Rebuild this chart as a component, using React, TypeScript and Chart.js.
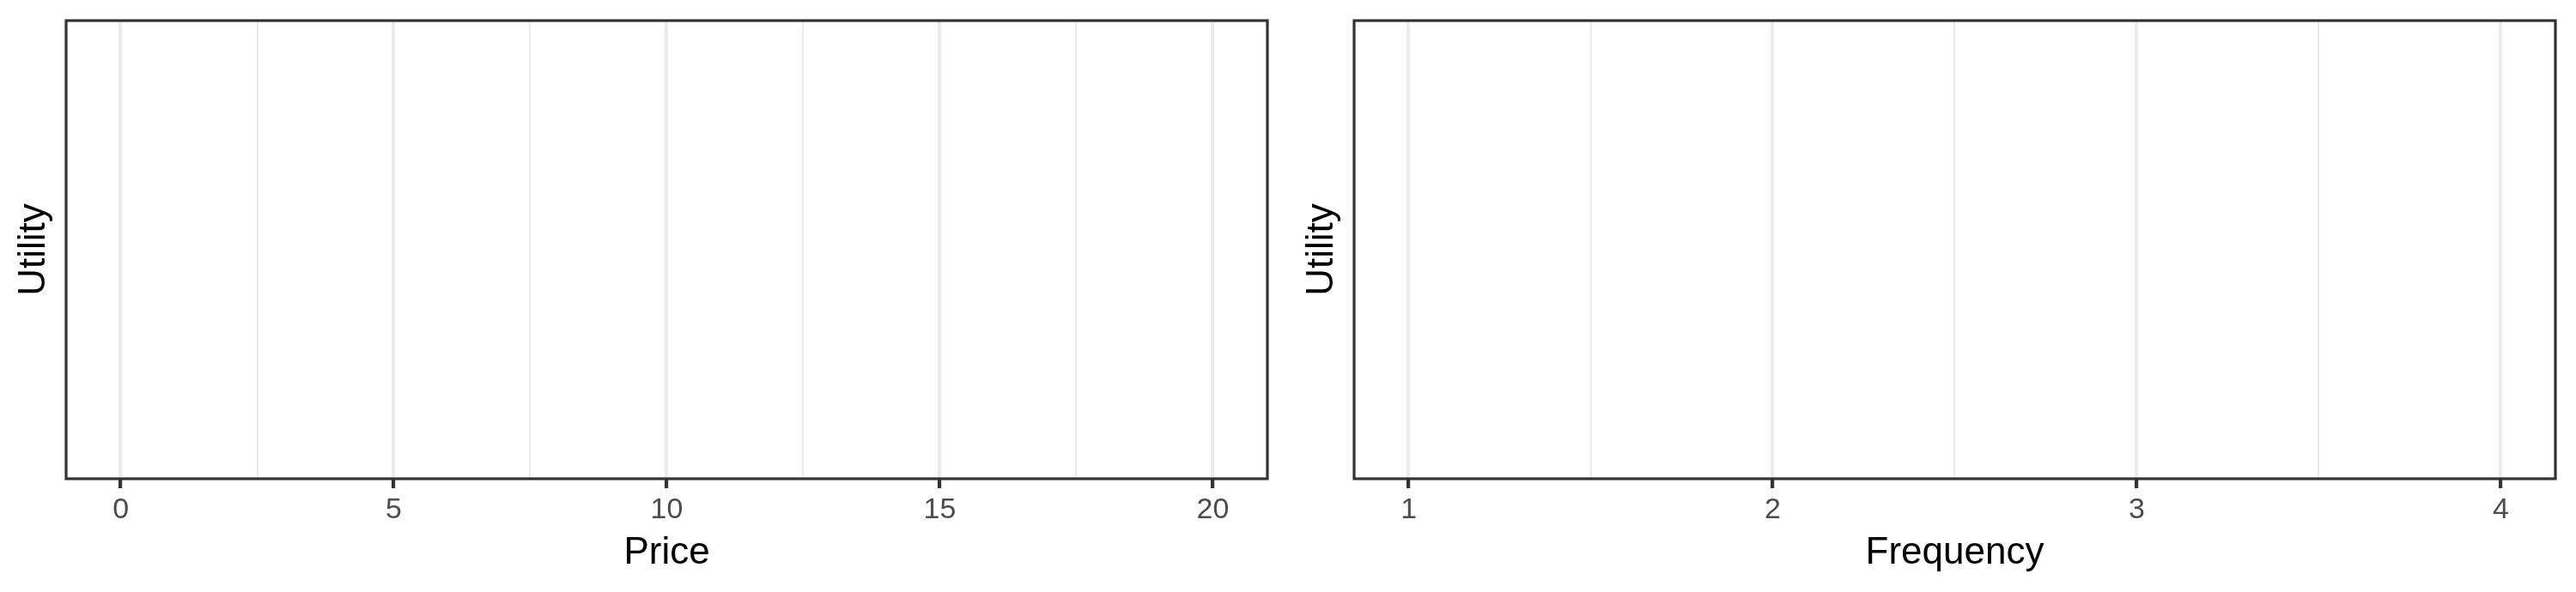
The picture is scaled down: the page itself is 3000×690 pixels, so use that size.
import React, { useEffect, useRef } from "react";
import { Chart, registerables } from "chart.js";

Chart.register(...registerables);

// ---- Data (the reference panels contain no plotted marks) ----
const priceMajorTicks = [0, 5, 10, 15, 20];
const priceMinorTicks = [2.5, 7.5, 12.5, 17.5];
const priceLimits = [-1, 21];
const priceValues: { x: number; y: number }[] = [];

const frequencyMajorTicks = [1, 2, 3, 4];
const frequencyMinorTicks = [1.5, 2.5, 3.5];
const frequencyLimits = [0.85, 4.15];
const frequencyValues: { x: number; y: number }[] = [];

const xTitles = ["Price", "Frequency"];
const yTitle = "Utility";

const FONT = "'Liberation Sans', Arial, Helvetica, sans-serif";

const borderPlugin = {
  id: "panelBorder",
  afterDraw(chart: any) {
    const { ctx, chartArea } = chart;
    ctx.save();
    ctx.strokeStyle = "#333333";
    ctx.lineWidth = 3.2;
    ctx.strokeRect(
      chartArea.left,
      chartArea.top,
      chartArea.right - chartArea.left,
      chartArea.bottom - chartArea.top
    );
    ctx.restore();
  },
};

function Panel(props: {
  values: { x: number; y: number }[];
  major: number[];
  minor: number[];
  limits: number[];
  xTitle: string;
}) {
  const ref = useRef<HTMLCanvasElement | null>(null);
  useEffect(() => {
    if (!ref.current) return;
    const { values, major, minor, limits, xTitle } = props;
    const all = [...major, ...minor].sort((a, b) => a - b);
    const isMajor = (v: number) => major.includes(v);
    const chart = new Chart(ref.current, {
      type: "scatter",
      data: { datasets: [{ data: values, showLine: false }] },
      options: {
        animation: false,
        responsive: false,
        devicePixelRatio: 1,
        layout: { padding: { top: 24, right: 24, left: 0, bottom: 0 } },
        plugins: { legend: { display: false }, tooltip: { enabled: false } },
        scales: {
          x: {
            type: "linear",
            min: limits[0],
            max: limits[1],
            afterBuildTicks: (scale: any) => {
              scale.ticks = all.map((v) => ({ value: v }));
            },
            afterFit: (scale: any) => {
              scale.height = 132;
            },
            border: { display: false },
            grid: {
              color: "#ebebeb",
              lineWidth: (c: any) => (isMajor(c.tick?.value) ? 4.2 : 2.1),
              drawTicks: true,
              tickLength: 11,
              tickWidth: 4.2,
              tickColor: (c: any) =>
                isMajor(c.tick?.value) ? "#333333" : "rgba(0,0,0,0)",
            },
            ticks: {
              autoSkip: false,
              maxRotation: 0,
              padding: 5,
              color: "#4d4d4d",
              font: { family: FONT, size: 34 },
              callback: (v: any) => (isMajor(Number(v)) ? String(v) : ""),
            },
            title: {
              display: true,
              text: xTitle,
              color: "#000000",
              font: { family: FONT, size: 44 },
              padding: { top: 0, bottom: 19 },
            },
          },
          y: {
            type: "linear",
            afterFit: (scale: any) => {
              scale.width = 77;
            },
            border: { display: false },
            grid: { display: false },
            ticks: { display: false },
            title: {
              display: true,
              text: yTitle,
              color: "#000000",
              font: { family: FONT, size: 44 },
              padding: { top: 13, bottom: 0 },
            },
          },
        },
      },
      plugins: [borderPlugin],
    });
    return () => chart.destroy();
  }, []);
  return (
    <canvas
      ref={ref}
      width={1500}
      height={690}
      style={{ width: 1500, height: 690, display: "block" }}
    />
  );
}

export default function App() {
  return (
    <div
      style={{
        position: "fixed",
        left: 0,
        top: 0,
        width: 3000,
        height: 690,
        display: "flex",
        background: "#ffffff",
      }}
    >
      <Panel
        values={priceValues}
        major={priceMajorTicks}
        minor={priceMinorTicks}
        limits={priceLimits}
        xTitle={xTitles[0]}
      />
      <Panel
        values={frequencyValues}
        major={frequencyMajorTicks}
        minor={frequencyMinorTicks}
        limits={frequencyLimits}
        xTitle={xTitles[1]}
      />
    </div>
  );
}
